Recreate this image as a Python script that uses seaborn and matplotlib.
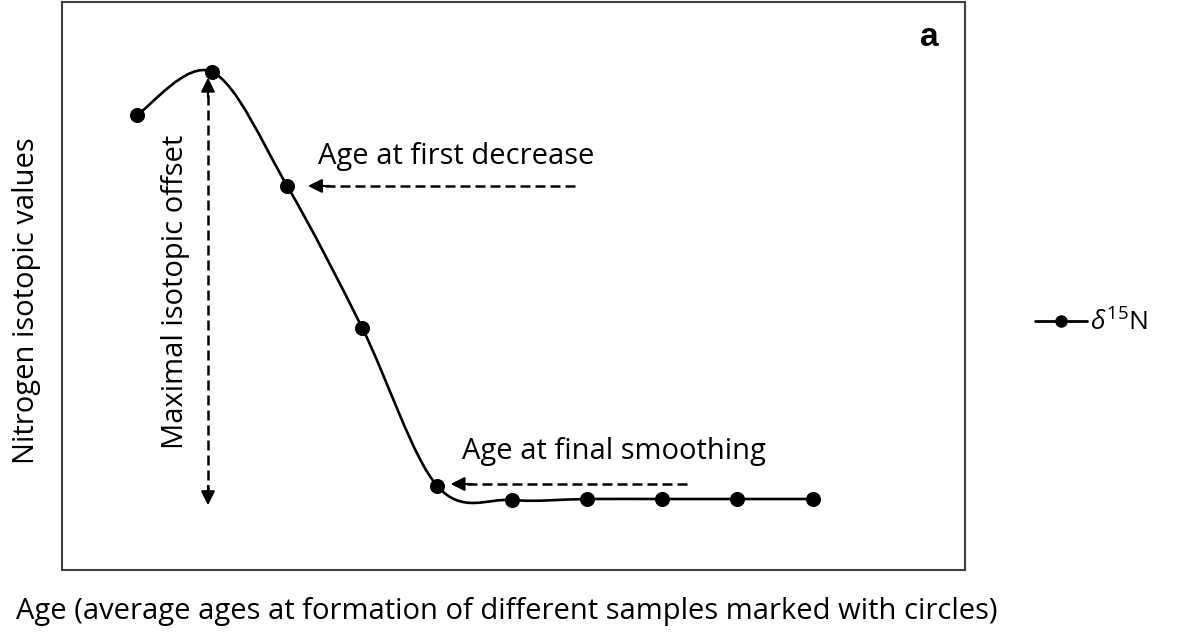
import numpy as np
import matplotlib
matplotlib.use("Agg")
import matplotlib.pyplot as plt
from matplotlib.path import Path
from matplotlib.patches import PathPatch
from matplotlib.lines import Line2D
import seaborn as sns

# sample positions (order of formation) and nitrogen values
sample_age = [1, 2, 3, 4, 5, 6, 7, 8, 9, 10]
d15n = [9.10, 9.96, 7.68, 4.84, 1.68, 1.40, 1.42, 1.42, 1.42, 1.42]
series_label = r"$\delta^{15}$N"

sns.set_theme(style="white")
plt.rcParams["font.family"] = ["Open Sans", "DejaVu Sans"]
plt.rcParams["mathtext.fontset"] = "custom"
plt.rcParams["mathtext.rm"] = "Open Sans"
plt.rcParams["mathtext.it"] = "Open Sans:italic"
plt.rcParams["text.color"] = "black"
plt.rcParams["axes.labelcolor"] = "black"

fig = plt.figure(figsize=(11.81, 6.33), dpi=100)
ax = fig.add_axes([0.0525, 0.0995, 0.7645, 0.8975])

# smoothed line, Excel style (cubic Bezier through the points)
pts = np.column_stack([sample_age, d15n]).astype(float)
ext = np.vstack([pts[0], pts, pts[-1]])
verts = [tuple(pts[0])]
codes = [Path.MOVETO]
for i in range(len(pts) - 1):
    p0, p1, p2, p3 = ext[i], ext[i + 1], ext[i + 2], ext[i + 3]
    c1 = p1 + (p2 - p0) / 6
    c2 = p2 - (p3 - p1) / 6
    verts += [tuple(c1), tuple(c2), tuple(p2)]
    codes += [Path.CURVE4] * 3
ax.add_patch(PathPatch(Path(verts, codes), facecolor="none", edgecolor="black", lw=1.9))

sns.scatterplot(x=sample_age, y=d15n, color="black", s=100, edgecolor="black",
                zorder=3, legend=False, ax=ax)

ax.set_xlim(0, 12.03)
ax.set_ylim(0, 11.36)
ax.set_xticks([])
ax.set_yticks([])
for sp in ax.spines.values():
    sp.set_color("#404040")
    sp.set_linewidth(1.5)

fs = 21
ax.set_xlabel("Age (average ages at formation of different samples marked with circles)",
              fontsize=fs)
ax.set_ylabel("Nitrogen isotopic values", fontsize=fs)
ax.xaxis.set_label_coords(0.493, -0.047)
ax.yaxis.set_label_coords(-0.0235, 0.474)

dash = (0, (4, 2))
head = dict(arrowstyle="-|>,head_length=0.7,head_width=0.35", color="black", lw=1.5)

# maximal offset double arrow
ax.plot([1.945, 1.945], [1.5, 9.6], ls=dash, color="black", lw=1.8)
ax.annotate("", xy=(1.945, 9.9), xytext=(1.945, 9.4), arrowprops=head)
ax.annotate("", xy=(1.945, 1.24), xytext=(1.945, 1.74), arrowprops=head)
ax.text(1.51, 5.56, "Maximal isotopic offset", rotation=90, ha="center", va="center", fontsize=fs)

# first decrease arrow
ax.plot([3.5, 6.9], [7.68, 7.68], ls=dash, color="black", lw=1.8)
ax.annotate("", xy=(3.24, 7.68), xytext=(3.6, 7.68), arrowprops=head)
ax.text(3.41, 8.26, "Age at first decrease", ha="left", va="center", fontsize=fs)

# final smoothing arrow
ax.plot([5.4, 8.36], [1.72, 1.72], ls=dash, color="black", lw=1.8)
ax.annotate("", xy=(5.14, 1.72), xytext=(5.5, 1.72), arrowprops=head)
ax.text(5.33, 2.36, "Age at final smoothing", ha="left", va="center", fontsize=fs)

ax.text(11.55, 10.65, "a", ha="center", va="center", fontsize=24, fontweight="bold",
        family=["Liberation Sans", "DejaVu Sans"])

handle = Line2D([], [], color="black", lw=2, marker="o", markersize=8)
ax.legend([handle], [series_label], loc="center left", bbox_to_anchor=(1.051, 0.435),
          frameon=False, fontsize=19, handlelength=2.0, handletextpad=0.1)

fig.savefig("out.png", dpi=100)
